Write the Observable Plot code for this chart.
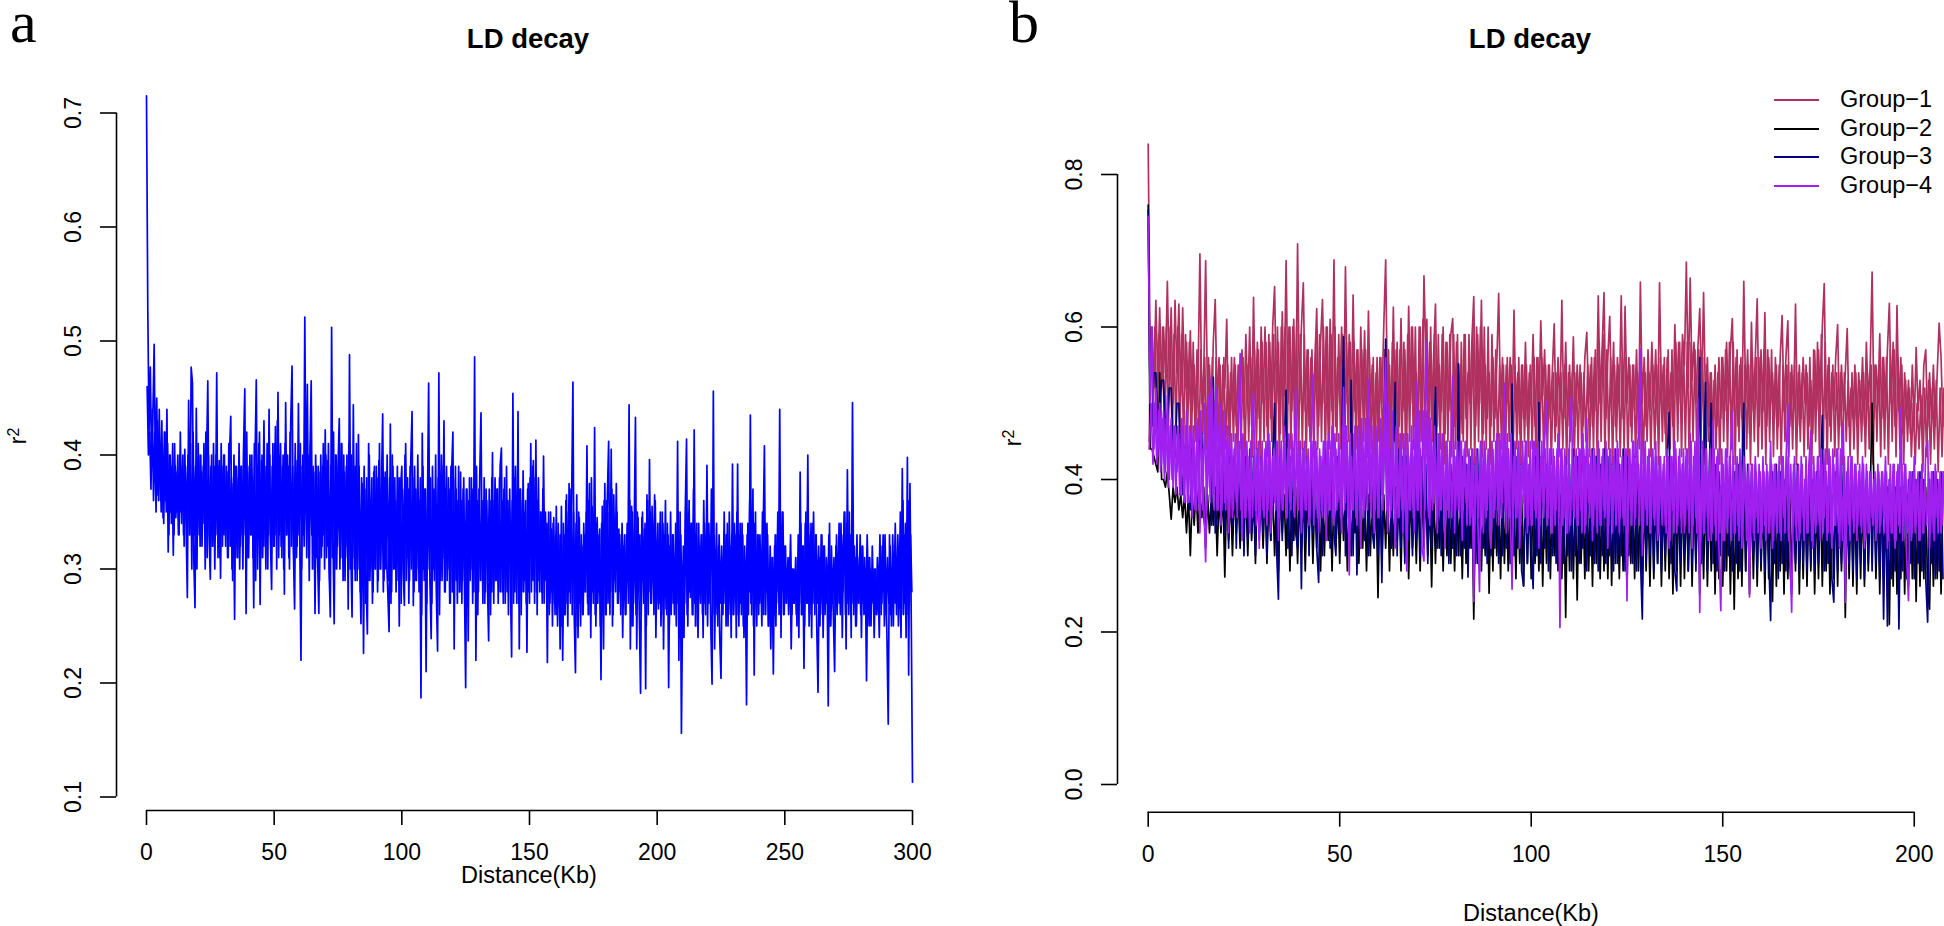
<!DOCTYPE html>
<html><head><meta charset="utf-8">
<script src="https://cdn.jsdelivr.net/npm/d3@7"></script>
<script src="https://cdn.jsdelivr.net/npm/@observablehq/plot@0.6"></script>
<style>
html,body{margin:0;padding:0;background:#fff}
#page{position:relative;width:1944px;height:926px;overflow:hidden;font-family:"Liberation Sans",sans-serif;color:#000}
#page svg{position:absolute;top:0;background:transparent}
.t{position:absolute;white-space:nowrap;line-height:1}
.ttl{font-weight:bold;font-size:27.5px;transform:translateX(-50%)}
.xl{font-size:23.5px;transform:translateX(-50%)}
.let{font-family:"Liberation Serif",serif;font-size:60px;line-height:42px}
.yl{font-size:23px;transform:translate(-50%,-50%) rotate(-90deg)}
.yl sup{font-size:16px;line-height:0;vertical-align:7px}
.lg{font-size:23.5px}
.sw{position:absolute;height:2px}
</style></head><body><div id="page"></div>
<script>
const stepA = 0.5, stepB = 0.5;
const xTicksA = [0,50,100,150,200,250,300];
const yTicksA = [0.1,0.2,0.3,0.4,0.5,0.6,0.7];
const xTicksB = [0,50,100,150,200];
const yTicksB = [0,0.2,0.4,0.6,0.8];
const groupNames = ["Group\u22121","Group\u22122","Group\u22123","Group\u22124"];
const groupColors = ["#b03060","#000000","#000080","#a020f0"];

const ldA = [
.715,.53,.42,.477,.39,.435,.497,.38,.45,.365,.44,.36,.43,.345,.42,.36,.44,.315,.40,.35,
.39,.312,.41,.345,.385,.33,.40,.35,.39,.33,.405,.34,.275,.448,.33,.477,.463,.31,.266,.441,
.33,.40,.32,.385,.34,.41,.30,.39,.465,.33,.291,.40,.32,.39,.33,.472,.31,.395,.292,.39,
.33,.40,.32,.385,.31,.40,.434,.30,.375,.256,.39,.31,.38,.30,.39,.33,.405,.458,.261,.385,
.31,.40,.33,.38,.266,.395,.466,.30,.41,.269,.395,.31,.43,.32,.39,.30,.44,.33,.282,.41,
.32,.425,.30,.455,.33,.41,.31,.40,.278,.446,.33,.39,.30,.43,.478,.32,.265,.395,.32,.445,
.33,.22,.39,.33,.521,.35,.462,.31,.40,.465,.30,.385,.261,.39,.31,.261,.385,.31,.39,.33,
.422,.31,.395,.30,.258,.512,.33,.252,.40,.30,.39,.432,.31,.41,.29,.385,.32,.40,.265,.488,
.32,.258,.444,.30,.39,.29,.418,.31,.252,.375,.226,.37,.29,.243,.41,.29,.36,.27,.385,.30,
.39,.28,.395,.30,.37,.436,.29,.385,.31,.28,.245,.427,.28,.39,.30,.36,.29,.38,.25,.37,
.39,.30,.268,.41,.31,.37,.29,.395,.438,.268,.39,.29,.37,.30,.36,.187,.419,.30,.37,.21,
.35,.463,.29,.239,.39,.30,.37,.28,.228,.472,.29,.40,.31,.43,.28,.39,.30,.37,.27,.385,
.42,.23,.39,.29,.36,.28,.385,.27,.37,.29,.196,.37,.237,.38,.30,.37,.28,.486,.22,.36,
.28,.38,.437,.29,.36,.27,.37,.29,.237,.36,.28,.402,.27,.38,.29,.37,.28,.39,.406,.28,
.37,.27,.39,.28,.36,.29,.223,.454,.28,.39,.27,.438,.23,.37,.28,.386,.29,.36,.227,.375,
.27,.41,.29,.395,.27,.413,.26,.38,.28,.35,.27,.399,.29,.34,.218,.35,.27,.335,.25,.345,
.26,.355,.25,.33,.23,.355,.22,.33,.26,.365,.25,.375,.27,.36,.464,.26,.209,.365,.24,.345,
.25,.32,.26,.33,.28,.408,.26,.375,.24,.355,.27,.424,.25,.345,.28,.335,.203,.355,.23,.375,
.26,.365,.412,.26,.405,.25,.365,.29,.375,.27,.335,.28,.33,.24,.32,.26,.33,.29,.444,.23,
.355,.25,.335,.433,.23,.345,.26,.191,.345,.29,.335,.195,.365,.26,.396,.27,.355,.29,.365,.24,
.325,.265,.34,.25,.35,.23,.33,.265,.34,.196,.32,.26,.33,.27,.31,.25,.412,.22,.35,.156,
.28,.24,.35,.414,.25,.36,.275,.34,.26,.422,.25,.34,.24,.32,.27,.33,.24,.34,.26,.391,
.27,.33,.25,.199,.456,.23,.31,.26,.32,.24,.204,.31,.27,.33,.25,.34,.26,.32,.24,.392,
.26,.33,.24,.392,.25,.34,.26,.33,.24,.30,.181,.34,.28,.435,.26,.37,.207,.35,.25,.33,
.27,.31,.25,.33,.408,.26,.34,.25,.30,.23,.31,.208,.32,.25,.33,.28,.44,.24,.35,.26,
.32,.27,.30,.26,.31,.23,.30,.27,.30,.26,.31,.24,.385,.26,.32,.213,.34,.27,.40,.25,
.33,.24,.34,.27,.33,.25,.192,.31,.26,.33,.24,.32,.27,.30,.18,.34,.25,.30,.26,.21,
.32,.26,.31,.27,.34,.24,.32,.35,.23,.387,.26,.33,.24,.446,.26,.31,.25,.30,.27,.33,
.24,.32,.26,.30,.202,.31,.25,.30,.27,.30,.24,.30,.26,.29,.24,.32,.27,.33,.25,.30,
.24,.164,.33,.26,.30,.25,.32,.27,.30,.25,.31,.24,.388,.26,.33,.24,.398,.207,.375,.26,
.113];

const ldACore = [
.46,.40,.42,.37,.44,.36,.42,.35,.43,.36,.41,.35,.40,.34,.42,.35,.41,.33,.40,.34,
.41,.33,.39,.35,.40,.33,.42,.34,.40,.32,.39,.34,.40,.33,.41,.30,.42,.33,.39,.30,
.41,.33,.40,.32,.39,.34,.42,.31,.40,.33,.39,.32,.41,.30,.40,.33,.39,.31,.41,.32,
.40,.33,.39,.31,.41,.32,.38,.29,.40,.33,.39,.31,.41,.32,.39,.30,.40,.33,.42,.31,
.39,.33,.40,.31,.41,.29,.39,.33,.42,.31,.40,.32,.39,.30,.41,.33,.40,.31,.39,.32,
.41,.33,.43,.31,.40,.32,.39,.30,.41,.33,.40,.31,.42,.32,.39,.30,.41,.31,.39,.33,
.41,.30,.40,.32,.42,.31,.40,.29,.41,.33,.39,.30,.40,.31,.39,.29,.40,.32,.41,.30,
.40,.32,.41,.29,.39,.31,.42,.30,.40,.32,.39,.30,.41,.31,.40,.29,.39,.31,.41,.30,
.40,.31,.39,.29,.41,.30,.39,.28,.38,.30,.39,.27,.38,.29,.40,.30,.38,.28,.39,.30,
.38,.29,.41,.30,.39,.28,.38,.30,.40,.29,.38,.27,.40,.30,.38,.28,.39,.29,.38,.27,
.37,.30,.40,.29,.38,.27,.39,.30,.38,.28,.37,.29,.40,.28,.38,.26,.39,.29,.37,.27,
.39,.30,.38,.27,.37,.29,.40,.28,.38,.26,.37,.29,.39,.28,.37,.29,.38,.27,.39,.28,
.38,.29,.37,.27,.39,.28,.36,.29,.38,.27,.37,.28,.36,.29,.38,.27,.37,.28,.39,.26,
.37,.29,.36,.27,.38,.28,.36,.29,.37,.26,.38,.28,.36,.29,.37,.27,.38,.28,.36,.27,
.38,.28,.36,.26,.37,.29,.36,.27,.38,.28,.35,.27,.37,.26,.36,.28,.35,.27,.37,.28,
.38,.28,.39,.29,.38,.28,.36,.29,.35,.28,.37,.27,.35,.29,.34,.26,.35,.28,.34,.27,
.33,.26,.34,.27,.33,.25,.34,.26,.36,.27,.35,.28,.37,.26,.35,.27,.34,.25,.35,.27,
.33,.26,.34,.28,.35,.27,.36,.26,.38,.28,.35,.26,.34,.27,.33,.25,.34,.27,.36,.26,
.36,.27,.35,.28,.37,.26,.34,.28,.35,.27,.33,.26,.34,.28,.33,.26,.34,.27,.36,.25,
.35,.27,.34,.26,.35,.28,.33,.26,.35,.27,.34,.25,.36,.28,.35,.27,.34,.26,.36,.27,
.34,.27,.35,.26,.34,.28,.36,.26,.33,.25,.35,.27,.33,.26,.34,.27,.35,.24,.33,.26,
.32,.27,.36,.26,.35,.28,.34,.26,.37,.27,.33,.25,.34,.28,.33,.26,.36,.27,.33,.25,
.34,.27,.37,.26,.33,.28,.34,.25,.33,.27,.32,.26,.35,.27,.33,.25,.35,.27,.33,.26,
.34,.27,.35,.26,.33,.27,.34,.25,.32,.27,.33,.26,.36,.27,.35,.25,.34,.27,.33,.26,
.33,.27,.35,.26,.34,.28,.33,.25,.32,.27,.31,.26,.33,.27,.35,.26,.34,.28,.35,.26,
.32,.27,.31,.28,.33,.26,.30,.27,.31,.25,.33,.27,.34,.26,.32,.25,.35,.27,.34,.26,
.34,.27,.35,.26,.33,.27,.32,.25,.33,.27,.32,.26,.31,.27,.33,.25,.32,.27,.31,.26,
.33,.27,.34,.26,.33,.28,.35,.26,.34,.27,.35,.26,.33,.27,.32,.25,.33,.27,.31,.26,
.32,.27,.31,.26,.33,.28,.31,.25,.32,.27,.30,.26,.31,.27,.33,.26,.32,.28,.33,.26,
.31,.27,.32,.25,.33,.27,.34,.26,.33,.28,.35,.26,.36,.27,.34,.26,.36,.27,.33,.28];

const group1 = [
.84,.56,.60,.52,.635,.53,.625,.52,.60,.54,.66,.53,.625,.50,.635,.54,.63,.51,.625,.52,
.58,.50,.595,.49,.55,.48,.53,.696,.50,.54,.687,.50,.55,.48,.58,.636,.49,.56,.47,.55,
.52,.61,.46,.54,.49,.56,.47,.55,.50,.57,.48,.59,.50,.60,.47,.639,.49,.58,.48,.60,
.50,.60,.47,.59,.48,.60,.653,.50,.58,.46,.62,.51,.687,.50,.60,.49,.61,.48,.709,.50,
.60,.658,.49,.57,.47,.56,.50,.55,.624,.47,.58,.636,.50,.60,.46,.61,.49,.688,.47,.56,
.50,.60,.48,.679,.50,.59,.47,.642,.49,.57,.46,.60,.50,.595,.47,.621,.49,.55,.46,.54,
.47,.56,.50,.60,.688,.49,.55,.46,.626,.48,.58,.47,.611,.49,.57,.46,.627,.50,.60,.47,
.54,.48,.60,.47,.667,.56,.50,.58,.48,.56,.63,.47,.55,.49,.60,.46,.58,.49,.59,.611,
.47,.58,.49,.55,.46,.59,.48,.54,.50,.58,.64,.47,.59,.50,.635,.46,.55,.48,.54,.47,
.56,.48,.55,.644,.49,.56,.47,.55,.50,.56,.47,.622,.49,.54,.46,.55,.48,.58,.47,.54,
.50,.59,.47,.56,.49,.608,.51,.57,.46,.55,.48,.54,.604,.47,.56,.49,.635,.48,.58,.47,
.55,.49,.587,.47,.55,.50,.54,.47,.56,.593,.50,.55,.47,.56,.49,.641,.50,.57,.645,.48,
.56,.614,.49,.58,.47,.56,.50,.641,.48,.627,.50,.56,.47,.55,.49,.57,.46,.659,.50,.56,
.47,.57,.49,.58,.50,.57,.47,.658,.50,.55,.46,.56,.49,.54,.47,.603,.51,.58,.50,.59,
.55,.685,.52,.664,.53,.58,.50,.57,.624,.51,.645,.50,.56,.47,.54,.46,.55,.47,.56,.48,
.56,.49,.58,.50,.57,.611,.49,.56,.47,.55,.48,.66,.50,.57,.46,.606,.49,.56,.637,.47,
.57,.49,.619,.47,.56,.50,.54,.48,.55,.47,.56,.615,.49,.56,.608,.47,.55,.49,.63,.47,
.55,.48,.56,.50,.54,.47,.53,.46,.569,.49,.57,.50,.60,.657,.48,.55,.47,.54,.49,.56,
.603,.47,.55,.49,.54,.598,.47,.52,.48,.55,.47,.54,.49,.56,.47,.58,.50,.55,.672,.48,
.55,.50,.591,.48,.56,.49,.57,.631,.50,.58,.47,.628,.49,.56,.46,.54,.48,.53,.46,.55,
.47,.573,.49,.53,.46,.55,.57,.47,.54,.48,.55,.47,.54,.605,.56,.47];

const group1Core = [
.45,.60,.47,.60,.46,.59,.47,.60,.45,.60,.46,.60,.44,.59,.46,.60,.45,.59,.44,.59,
.45,.58,.43,.58,.45,.57,.44,.57,.46,.56,.44,.56,.45,.56,.43,.56,.45,.55,.43,.56,
.44,.55,.42,.56,.45,.55,.43,.55,.44,.56,.42,.55,.45,.56,.43,.57,.44,.57,.42,.58,
.45,.58,.43,.58,.45,.59,.44,.60,.42,.60,.45,.60,.43,.60,.44,.60,.45,.60,.43,.59,
.44,.59,.42,.57,.45,.57,.43,.58,.44,.59,.45,.60,.42,.60,.44,.59,.43,.60,.45,.59,
.44,.59,.42,.58,.45,.58,.43,.58,.44,.57,.42,.57,.45,.57,.43,.56,.44,.56,.42,.56,
.45,.56,.43,.57,.44,.57,.42,.58,.45,.57,.43,.57,.44,.58,.42,.59,.45,.60,.44,.60,
.43,.60,.45,.61,.44,.61,.42,.60,.45,.59,.43,.59,.44,.59,.42,.58,.45,.59,.43,.59,
.44,.59,.42,.58,.45,.59,.43,.59,.44,.60,.42,.60,.45,.60,.43,.60,.44,.60,.42,.59,
.45,.57,.43,.55,.44,.55,.42,.56,.45,.55,.43,.55,.44,.56,.42,.55,.45,.55,.43,.55,
.44,.56,.42,.56,.45,.56,.43,.55,.44,.55,.42,.54,.45,.54,.43,.54,.44,.55,.42,.54,
.45,.54,.43,.54,.44,.55,.42,.54,.45,.55,.43,.56,.44,.57,.42,.58,.45,.59,.43,.57,
.44,.56,.42,.55,.45,.55,.43,.56,.44,.56,.42,.55,.45,.55,.43,.54,.44,.54,.42,.54,
.45,.54,.43,.55,.44,.55,.42,.56,.45,.56,.43,.57,.44,.57,.42,.58,.45,.58,.43,.58,
.44,.58,.42,.58,.45,.57,.43,.57,.44,.56,.42,.55,.45,.54,.43,.53,.44,.54,.42,.56,
.45,.57,.43,.58,.44,.58,.42,.57,.45,.56,.43,.55,.44,.55,.42,.56,.45,.56,.43,.56,
.44,.57,.42,.57,.45,.57,.43,.56,.44,.55,.42,.55,.45,.55,.43,.54,.44,.55,.42,.54,
.45,.54,.43,.55,.44,.56,.42,.57,.45,.58,.43,.59,.44,.58,.42,.56,.45,.55,.43,.54,
.44,.54,.42,.54,.45,.53,.43,.54,.44,.54,.42,.53,.45,.54,.43,.54,.44,.55,.42,.55,
.45,.55,.43,.56,.44,.56,.42,.57,.45,.57,.43,.56,.44,.55,.42,.53,.45,.52,.43,.50,
.42,.50,.44,.51,.41,.52,.43,.53,.42,.52,.44,.53,.41,.52,.43,.52];

const group2 = [
.76,.44,.44,.43,.42,.41,.54,.40,.40,.39,.41,.38,.348,.39,.37,.39,.36,.38,.35,.38,
.33,.38,.30,.38,.34,.39,.33,.38,.35,.39,.31,.38,.33,.38,.34,.39,.30,.38,.33,.39,
.272,.39,.32,.38,.30,.39,.33,.38,.31,.39,.34,.38,.30,.39,.32,.38,.29,.39,.33,.38,
.31,.39,.29,.38,.32,.39,.30,.38,.28,.39,.33,.38,.30,.39,.28,.38,.32,.39,.29,.38,
.31,.39,.28,.38,.33,.39,.29,.38,.31,.39,.28,.38,.30,.39,.32,.38,.28,.39,.31,.38,
.29,.39,.32,.38,.28,.39,.30,.38,.33,.39,.29,.38,.31,.39,.28,.38,.30,.39,.32,.38,
.245,.39,.29,.38,.31,.39,.28,.38,.30,.39,.32,.38,.28,.39,.30,.38,.27,.39,.31,.38,
.29,.39,.28,.38,.31,.39,.30,.38,.259,.39,.29,.38,.31,.39,.28,.38,.30,.39,.29,.38,
.28,.39,.30,.38,.27,.39,.29,.38,.31,.39,.217,.38,.29,.39,.28,.38,.30,.39,.251,.38,
.28,.39,.30,.38,.27,.39,.29,.38,.28,.39,.30,.38,.27,.39,.29,.38,.26,.39,.29,.38,
.27,.39,.29,.38,.28,.39,.26,.38,.29,.39,.27,.38,.30,.39,.28,.38,.27,.39,.219,.38,
.28,.39,.27,.38,.242,.39,.29,.38,.27,.39,.28,.38,.26,.39,.29,.38,.27,.39,.28,.38,
.27,.39,.261,.38,.29,.39,.27,.38,.28,.39,.26,.38,.29,.39,.27,.38,.28,.39,.26,.38,
.28,.38,.26,.39,.27,.38,.29,.39,.26,.38,.28,.39,.27,.38,.25,.39,.28,.38,.26,.39,
.27,.38,.28,.39,.26,.38,.29,.39,.25,.38,.27,.39,.26,.38,.28,.39,.25,.38,.27,.39,
.26,.38,.28,.39,.25,.38,.23,.39,.27,.38,.26,.39,.28,.38,.25,.39,.27,.38,.26,.39,
.28,.38,.25,.39,.27,.38,.24,.39,.26,.38,.28,.39,.25,.38,.27,.39,.26,.38,.28,.39,
.25,.38,.27,.39,.26,.38,.28,.39,.25,.38,.27,.39,.26,.38,.28,.39,.25,.38,.27,.39,
.26,.38,.28,.39,.219,.38,.27,.39,.26,.38,.25,.39,.27,.38,.26,.39,.28,.38,.50,.39,
.27,.38,.25,.39,.27,.38,.39,.21,.38,.26,.39,.25,.38,.27,.39,.25,.38,.26,.39,.27,
.38,.24,.39,.26,.38,.27,.39,.25,.23,.38,.26,.39,.27,.38,.25,.39];

const group3 = [
.753,.50,.47,.54,.54,.47,.50,.53,.53,.46,.47,.52,.52,.45,.43,.50,.50,.42,.38,.44,
.45,.37,.36,.44,.44,.36,.37,.45,.46,.35,.33,.44,.43,.34,.534,.33,.35,.43,.34,.43,
.33,.44,.31,.43,.34,.44,.31,.43,.33,.45,.30,.43,.32,.44,.33,.43,.30,.44,.32,.43,
.33,.42,.30,.44,.32,.43,.50,.31,.243,.43,.32,.44,.517,.31,.43,.30,.44,.33,.31,.43,
.257,.44,.32,.43,.30,.44,.33,.43,.31,.265,.43,.30,.44,.32,.43,.31,.44,.33,.30,.43,
.33,.42,.587,.30,.43,.32,.53,.30,.44,.275,.43,.31,.44,.32,.43,.30,.42,.33,.31,.43,
.30,.43,.265,.42,.584,.33,.44,.31,.43,.527,.30,.44,.31,.43,.29,.43,.32,.42,.30,.43,
.32,.44,.30,.43,.33,.42,.29,.43,.31,.44,.521,.31,.43,.30,.42,.32,.44,.29,.42,.31,
.43,.30,.552,.30,.43,.31,.42,.272,.43,.31,.42,.29,.44,.30,.43,.31,.42,.29,.43,.30,
.43,.31,.42,.29,.43,.30,.42,.31,.44,.29,.525,.30,.43,.31,.42,.28,.261,.43,.29,.42,
.31,.257,.43,.30,.501,.29,.43,.31,.42,.28,.43,.30,.42,.29,.43,.31,.42,.29,.43,.30,
.42,.28,.44,.30,.43,.29,.42,.31,.43,.28,.42,.30,.44,.29,.43,.28,.42,.30,.44,.29,
.43,.30,.42,.28,.44,.29,.42,.30,.44,.28,.43,.30,.42,.29,.43,.28,.42,.30,.217,.42,
.29,.43,.30,.42,.28,.43,.29,.42,.28,.41,.30,.43,.488,.29,.42,.28,.254,.41,.29,.42,
.30,.43,.28,.42,.29,.43,.28,.42,.56,.29,.42,.527,.28,.42,.50,.29,.42,.28,.41,.30,
.42,.28,.41,.30,.42,.28,.41,.29,.42,.28,.41,.50,.28,.42,.29,.41,.30,.42,.28,.41,
.29,.42,.28,.41,.30,.215,.41,.29,.42,.27,.41,.29,.40,.28,.41,.29,.25,.41,.29,.42,
.28,.41,.29,.40,.28,.41,.29,.40,.28,.41,.29,.40,.484,.28,.41,.29,.40,.27,.239,.41,
.28,.40,.29,.42,.27,.41,.29,.40,.28,.41,.27,.40,.29,.41,.27,.40,.29,.41,.28,.40,
.29,.41,.27,.40,.217,.39,.208,.40,.27,.41,.28,.40,.204,.39,.28,.41,.27,.40,.29,.41,
.27,.40,.29,.41,.28,.40,.27,.213,.40,.29,.41,.27,.40,.28,.41,.27];

const group4 = [
.745,.50,.60,.44,.52,.43,.50,.42,.49,.41,.51,.40,.48,.39,.47,.41,.46,.38,.47,.37,
.49,.37,.46,.35,.45,.36,.47,.33,.44,.37,.292,.45,.39,.534,.38,.50,.36,.47,.34,.46,
.37,.45,.33,.44,.35,.43,.37,.46,.565,.32,.44,.35,.43,.33,.45,.513,.36,.44,.31,.43,
.36,.44,.34,.46,.33,.43,.37,.45,.32,.44,.36,.47,.35,.44,.37,.46,.39,.52,.36,.45,
.33,.44,.36,.43,.34,.45,.538,.36,.44,.33,.43,.35,.45,.32,.46,.36,.47,.34,.44,.37,
.44,.33,.521,.37,.45,.275,.43,.36,.47,.34,.44,.31,.46,.36,.43,.53,.37,.45,.33,.44,
.35,.46,.38,.47,.56,.33,.44,.36,.45,.31,.43,.35,.46,.33,.44,.28,.43,.36,.45,.33,
.528,.36,.44,.31,.293,.582,.47,.34,.45,.37,.44,.33,.46,.36,.43,.31,.45,.35,.44,.536,
.33,.43,.36,.45,.32,.44,.37,.42,.34,.44,.24,.43,.36,.253,.45,.33,.44,.36,.43,.31,
.44,.36,.46,.34,.45,.37,.526,.33,.44,.36,.256,.43,.35,.44,.31,.43,.37,.45,.33,.42,
.34,.45,.36,.44,.31,.43,.37,.45,.504,.35,.44,.33,.43,.36,.46,.206,.44,.35,.43,.33,
.45,.508,.36,.43,.34,.44,.36,.46,.33,.48,.37,.43,.32,.44,.36,.45,.34,.43,.36,.45,
.31,.44,.35,.43,.36,.45,.33,.42,.35,.44,.241,.43,.36,.45,.34,.43,.46,.571,.30,.44,
.36,.43,.33,.44,.35,.45,.32,.43,.36,.42,.34,.44,.31,.43,.36,.45,.33,.43,.35,.42,
.33,.44,.36,.46,.31,.43,.35,.508,.226,.42,.33,.44,.35,.41,.32,.477,.34,.43,.31,.228,
.42,.32,.44,.35,.43,.49,.33,.42,.34,.44,.31,.43,.36,.41,.246,.42,.33,.43,.35,.42,
.31,.43,.34,.42,.33,.45,.31,.42,.34,.41,.33,.43,.35,.42,.499,.31,.226,.42,.34,.41,
.32,.43,.35,.40,.33,.42,.464,.31,.41,.34,.43,.32,.42,.35,.41,.33,.43,.31,.42,.34,
.44,.31,.42,.473,.239,.41,.34,.43,.35,.42,.32,.41,.34,.43,.31,.42,.33,.41,.35,.40,
.32,.42,.33,.41,.35,.43,.31,.40,.33,.42,.31,.41,.34,.495,.32,.42,.30,.241,.41,.33,
.43,.34,.41,.32,.42,.33,.44,.451,.31,.41,.33,.42,.35,.40,.33,.41];

const group4Core = [
.44,.50,.42,.50,.42,.49,.41,.48,.40,.48,.39,.47,.40,.47,.38,.47,.38,.48,.38,.47,
.37,.47,.37,.47,.36,.48,.37,.49,.36,.50,.36,.51,.37,.52,.36,.52,.36,.50,.36,.49,
.36,.47,.35,.46,.36,.46,.35,.45,.36,.46,.35,.45,.36,.45,.35,.45,.34,.45,.35,.45,
.35,.45,.36,.45,.35,.44,.36,.45,.35,.45,.36,.45,.35,.46,.36,.45,.35,.45,.36,.45,
.35,.45,.36,.44,.35,.45,.34,.45,.35,.44,.36,.45,.35,.45,.36,.45,.35,.46,.36,.46,
.35,.47,.36,.47,.35,.46,.36,.46,.35,.47,.36,.48,.35,.48,.36,.48,.35,.47,.36,.47,
.35,.48,.36,.49,.36,.50,.35,.49,.36,.47,.35,.46,.36,.46,.35,.46,.36,.47,.35,.48,
.36,.49,.35,.49,.36,.49,.35,.48,.36,.47,.35,.46,.36,.46,.35,.45,.36,.45,.35,.45,
.36,.45,.35,.45,.36,.45,.34,.44,.35,.44,.34,.44,.35,.45,.34,.45,.35,.44,.36,.45,
.35,.45,.36,.46,.35,.47,.36,.46,.35,.46,.34,.45,.35,.45,.34,.45,.35,.45,.34,.45,
.34,.45,.35,.45,.34,.45,.35,.44,.34,.44,.33,.44,.34,.44,.35,.44,.34,.44,.33,.44,
.34,.44,.35,.44,.34,.44,.33,.44,.34,.44,.35,.44,.34,.43,.33,.44,.34,.44,.35,.44,
.34,.44,.33,.44,.34,.44,.35,.43,.34,.44,.33,.44,.34,.45,.35,.45,.34,.45,.33,.45,
.34,.44,.33,.44,.34,.43,.33,.43,.34,.43,.33,.43,.32,.43,.33,.44,.34,.44,.33,.44,
.34,.44,.33,.45,.34,.45,.33,.45,.32,.45,.33,.44,.32,.44,.33,.44,.32,.44,.33,.44,
.32,.44,.33,.43,.32,.43,.33,.43,.32,.42,.33,.42,.32,.42,.33,.42,.32,.41,.33,.41,
.33,.41,.32,.41,.33,.42,.32,.42,.33,.43,.32,.43,.33,.43,.32,.42,.33,.43,.32,.42,
.33,.42,.32,.43,.33,.43,.32,.43,.33,.43,.34,.44,.33,.44,.32,.44,.33,.44,.34,.44,
.33,.44,.32,.43,.33,.43,.32,.43,.33,.42,.34,.42,.33,.42,.32,.41,.33,.41,.34,.41,
.33,.41,.34,.41,.33,.41,.32,.42,.33,.42,.32,.42,.33,.42,.34,.42,.33,.41,.32,.41,
.33,.40,.32,.40,.33,.40,.34,.41,.33,.41,.32,.41,.33,.41,.34,.41];

const page = document.getElementById("page");
const fontOpts = {fontFamily:'"Liberation Sans",sans-serif', fontSize:"23px", background:"transparent", overflow:"visible"};

function rAxes(xTicks,yTicks,yDx,xDy){
  return [
    Plot.ruleY([0],{y:()=>yTicks[0],x1:xTicks[0],x2:xTicks[xTicks.length-1],dy:xDy,stroke:"#000",strokeWidth:1.6}),
    Plot.ruleX([0],{x:()=>0,y1:yTicks[0],y2:yTicks[yTicks.length-1],dx:yDx,stroke:"#000",strokeWidth:1.6}),
    Plot.axisX({ticks:xTicks,tickSize:15,tickPadding:18,dy:xDy,label:null,stroke:"#000",strokeWidth:1.6,tickFormat:d=>String(d)}),
    Plot.axisY({ticks:yTicks,tickSize:16,tickPadding:20,tickRotate:-90,textAnchor:"middle",dx:yDx,label:null,stroke:"#000",strokeWidth:1.6,tickFormat:d=>d.toFixed(1)})
  ];
}
function trace(values,color,offset,width){
  return Plot.line(values,{x:(d,i)=>i*stepB+offset,y:d=>d,stroke:color,strokeWidth:width});
}

const chartA = Plot.plot({
  width:970,height:926,marginLeft:146,marginRight:58,marginTop:112.5,marginBottom:129.5,
  style:fontOpts,
  x:{domain:[0,300],axis:null},
  y:{domain:[0.1,0.7],axis:null},
  marks:[
    trace(ldA,"#0000ff",0,1.7),
    trace(ldACore,"#0000ff",0.25,1.7),
    ...rAxes(xTicksA,yTicksA,-30,13.5)
  ]
});
chartA.style.left="0px";
page.appendChild(chartA);

const chartB = Plot.plot({
  width:972,height:926,marginLeft:175.7,marginRight:0,marginTop:174,marginBottom:142,
  style:fontOpts,
  x:{domain:[0,207.9],axis:null},
  y:{domain:[0,0.8],axis:null},
  marks:[
    trace(group1,groupColors[0],0,1.7),
    trace(group1Core,groupColors[0],0.25,1.7),
    trace(group2,groupColors[1],0,1.7),
    trace(group3,groupColors[2],0,1.7),
    trace(group4,groupColors[3],0,1.7),
    trace(group4Core,groupColors[3],0.25,1.7),
    ...rAxes(xTicksB,yTicksB,-30.7,27.7)
  ]
});
chartB.style.left="972px";
page.appendChild(chartB);

function label(cls,html,left,top){
  const d=document.createElement("div");
  d.className="t "+cls; d.innerHTML=html; d.style.left=left+"px"; d.style.top=top+"px";
  page.appendChild(d);
}
label("let","a",10,1);
label("let","b",1009,1);
label("ttl","LD decay",528,25);
label("ttl","LD decay",1530,25);
label("xl","Distance(Kb)",529,864);
label("xl","Distance(Kb)",1531,902);
label("yl","r<sup>2</sup>",18,436);
label("yl","r<sup>2</sup>",1013,438);
groupNames.forEach((g,i)=>{
  const y=[100,128.5,157,186][i];
  const s=document.createElement("div");
  s.className="sw"; s.style.left="1774px"; s.style.width="45px"; s.style.top=(y-1)+"px"; s.style.background=groupColors[i];
  page.appendChild(s);
  label("lg",g,1840,y-12);
});
</script></body></html>
